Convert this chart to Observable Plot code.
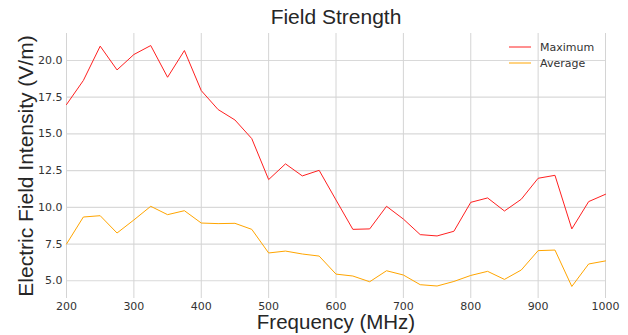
<!DOCTYPE html>
<html>
<head>
<meta charset="utf-8">
<script src="https://cdn.jsdelivr.net/npm/d3@7"></script>
<script src="https://cdn.jsdelivr.net/npm/@observablehq/plot@0.6"></script>
<style>
  html, body { margin: 0; padding: 0; background: #fff; }
</style>
</head>
<body>
<div id="chart"></div>
<script>
const title = "Field Strength";
const xLabel = "Frequency (MHz)";
const yLabel = "Electric Field Intensity (V/m)";
const seriesNames = ["Maximum", "Average"];
const seriesColors = ["#ff2020", "#ffa500"];

const frequency = [200, 225, 250, 275, 300, 325, 350, 375, 400, 425, 450, 475, 500, 525, 550, 575, 600, 625, 650, 675, 700, 725, 750, 775, 800, 825, 850, 875, 900, 925, 950, 975, 1000];
const maximum = [17.0, 18.64, 20.98, 19.36, 20.41, 21.02, 18.86, 20.68, 17.95, 16.66, 15.95, 14.68, 11.89, 12.96, 12.14, 12.52, 10.5, 8.5, 8.53, 10.07, 9.2, 8.14, 8.05, 8.37, 10.34, 10.64, 9.75, 10.55, 11.98, 12.18, 8.53, 10.39, 10.89];
const average = [7.5, 9.34, 9.43, 8.25, 9.14, 10.07, 9.5, 9.77, 8.93, 8.89, 8.91, 8.5, 6.89, 7.02, 6.82, 6.68, 5.45, 5.32, 4.93, 5.68, 5.39, 4.73, 4.64, 4.95, 5.36, 5.64, 5.09, 5.73, 7.05, 7.09, 4.61, 6.14, 6.35];

const xTicks = [200, 300, 400, 500, 600, 700, 800, 900, 1000];
const yTicks = [5.0, 7.5, 10.0, 12.5, 15.0, 17.5, 20.0];

const data = [];
frequency.forEach((f, i) => {
  data.push({freq: f, value: maximum[i], series: seriesNames[0]});
  data.push({freq: f, value: average[i], series: seriesNames[1]});
});

const allVals = maximum.concat(average);
const lo = d3.min(allVals), hi = d3.max(allVals);
const pad = (hi - lo) * 0.05;

const labelFont = "Liberation Sans, Arial, sans-serif";

const plot = Plot.plot({
  width: 628,
  height: 335,
  marginTop: 33,
  marginBottom: 37,
  marginLeft: 66,
  marginRight: 23,
  style: {fontFamily: "DejaVu Sans", fontSize: "11px", color: "#333", background: "#fff"},
  x: {domain: [200, 1000]},
  y: {domain: [lo - pad, hi + pad]},
  color: {domain: seriesNames, range: seriesColors},
  marks: [
    Plot.gridY(yTicks, {stroke: "#d9d9d9", strokeOpacity: 1, strokeWidth: 1.2}),
    Plot.gridX(xTicks, {stroke: "#d4d4d4", strokeOpacity: 1, strokeWidth: 1}),
    Plot.axisX(xTicks, {tickSize: 0, tickPadding: 4, label: null, tickFormat: d => String(d)}),
    Plot.axisY(yTicks, {tickSize: 0, tickPadding: 4, label: null, tickFormat: d => d.toFixed(1)}),
    Plot.line(data, {x: "freq", y: "value", z: "series", stroke: "series", strokeWidth: 1}),
    Plot.text([title], {frameAnchor: "top", textAnchor: "middle", lineAnchor: "bottom", dy: -9.5, fontSize: 21, fontFamily: labelFont, fill: "#262626"}),
    Plot.text([xLabel], {frameAnchor: "bottom", textAnchor: "middle", lineAnchor: "bottom", dy: 30.5, fontSize: 20.5, fontFamily: labelFont, fill: "#262626"}),
    Plot.text([yLabel], {frameAnchor: "left", textAnchor: "middle", lineAnchor: "bottom", rotate: -90, dx: -34, fontSize: 21, fontFamily: labelFont, fill: "#262626"})
  ]
});

document.getElementById("chart").appendChild(plot);

// legend (inside plot, top right)
const svg = d3.select(plot);
const lg = svg.append("g").attr("font-family", "DejaVu Sans").attr("font-size", 11).attr("text-anchor", "start");
seriesNames.forEach((name, i) => {
  const y = 47 + i * 16;
  lg.append("line").attr("x1", 509).attr("x2", 531).attr("y1", y).attr("y2", y)
    .attr("stroke", seriesColors[i]).attr("stroke-width", 1);
  lg.append("text").attr("x", 540).attr("y", y).attr("dy", "0.35em")
    .attr("text-anchor", "start").attr("fill", "#333").text(name);
});
</script>
</body>
</html>
